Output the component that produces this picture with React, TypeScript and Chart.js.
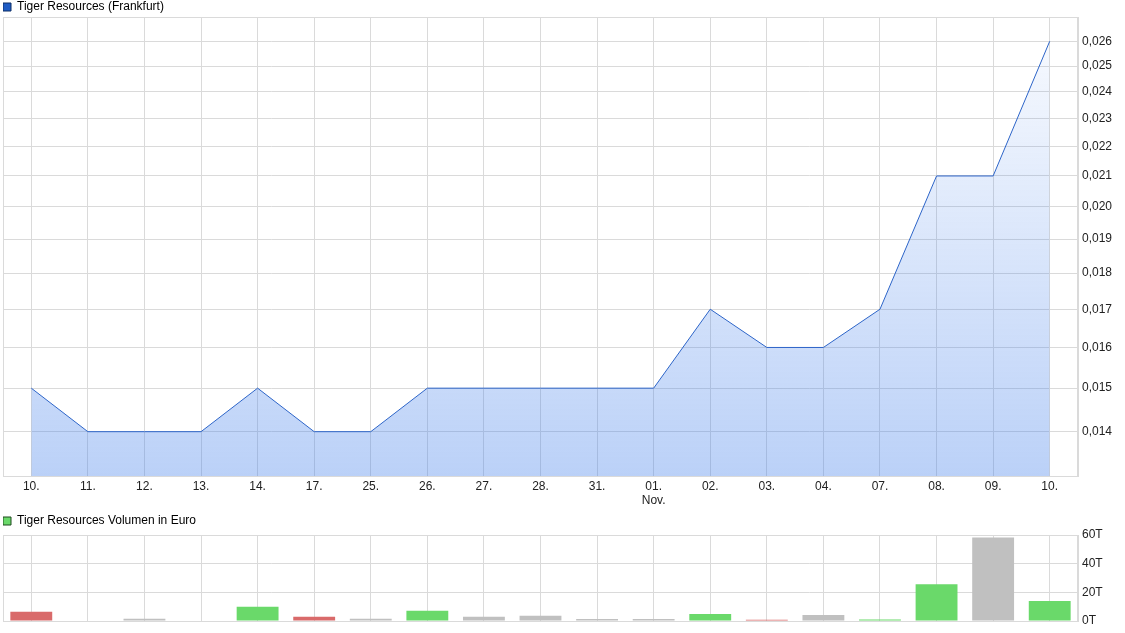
import { useEffect, useRef } from "react";
import { Chart, registerables } from "chart.js";

Chart.register(...registerables);

const FONT = "'Liberation Sans', Arial, Helvetica, sans-serif";

const categories: (string | string[])[] = [
  "10.", "11.", "12.", "13.", "14.", "17.", "25.", "26.", "27.", "28.", "31.",
  ["01.", "Nov."], "02.", "03.", "04.", "07.", "08.", "09.", "10.",
];

const priceValues = [
  0.015, 0.014, 0.014, 0.014, 0.015, 0.014, 0.014, 0.015, 0.015, 0.015, 0.015,
  0.015, 0.017, 0.016, 0.016, 0.017, 0.021, 0.021, 0.026,
];

const priceTicks = [
  0.014, 0.015, 0.016, 0.017, 0.018, 0.019, 0.02, 0.021, 0.022, 0.023, 0.024, 0.025, 0.026,
];

// volume in thousands of Euro (T)
const volumeValues = [
  6.4, 0, 1.6, 0, 9.9, 3.0, 1.6, 7.1, 3.0, 3.7, 1.4, 1.4, 4.8, 0.8, 4.2, 1.0, 25.6, 58.2, 14.0,
];

const volumeDirections = [
  "down", "flat", "flat", "flat", "up", "down", "flat", "up", "flat", "flat", "flat",
  "flat", "up", "down", "flat", "up", "up", "flat", "up",
];

const volumeTicks = [0, 20, 40, 60];

const priceTitle = "Tiger Resources (Frankfurt)";
const volumeTitle = "Tiger Resources Volumen in Euro";

const GRID = "#dadada";
const TEXT = "#222222";
const dirColor: Record<string, string> = { up: "#6ad96a", down: "#d96a6a", flat: "#c0c0c0" };

const borderPlugin = {
  id: "areaBorder",
  beforeDatasetsDraw(chart: any) {
    const { ctx, chartArea } = chart;
    ctx.save();
    ctx.strokeStyle = GRID;
    ctx.lineWidth = 1;
    ctx.strokeRect(
      Math.round(chartArea.left) + 0.5,
      Math.round(chartArea.top) + 0.5,
      Math.round(chartArea.right - chartArea.left) - 1,
      Math.round(chartArea.bottom - chartArea.top)
    );
    ctx.restore();
  },
};

function legendHeightPlugin(h: number) {
  return {
    id: "legendHeight",
    beforeInit(chart: any) {
      const legend = chart.legend;
      if (!legend) return;
      const orig = legend.fit;
      legend.fit = function () {
        orig.call(this);
        this.height = h;
      };
    },
  };
}

export default function App() {
  const topRef = useRef<HTMLCanvasElement | null>(null);
  const botRef = useRef<HTMLCanvasElement | null>(null);

  useEffect(() => {
    Chart.defaults.font.family = FONT;
    Chart.defaults.font.size = 12;
    Chart.defaults.color = TEXT;

    const top = new Chart(topRef.current as HTMLCanvasElement, {
      type: "line",
      data: {
        labels: categories as any,
        datasets: [
          {
            label: priceTitle,
            data: priceValues,
            borderColor: "#2c64c8",
            borderWidth: 1,
            pointRadius: 0,
            tension: 0,
            fill: "start",
            backgroundColor: (c: any) => {
              const { chart } = c;
              const area = chart.chartArea;
              if (!area) return "rgba(70,130,235,0.2)";
              const g = chart.ctx.createLinearGradient(0, area.top, 0, area.bottom);
              g.addColorStop(0, "rgba(70,130,235,0.03)");
              g.addColorStop(1, "rgba(70,130,235,0.37)");
              return g;
            },
          },
        ],
      },
      options: {
        animation: false,
        responsive: false,
        devicePixelRatio: 1,
        layout: { padding: { left: 3, top: 1, right: 0, bottom: 0 } },
        plugins: {
          tooltip: { enabled: false },
          legend: {
            display: true,
            position: "top",
            align: "start",
            labels: {
              boxWidth: 8,
              boxHeight: 8,
              padding: 0,
              color: TEXT,
              font: { size: 12, family: FONT },
              generateLabels: () => [
                {
                  text: priceTitle,
                  fillStyle: "#1f5cc4",
                  strokeStyle: "#0f2f66",
                  lineWidth: 1,
                  hidden: false,
                  datasetIndex: 0,
                } as any,
              ],
            },
          },
        },
        scales: {
          x: {
            type: "category",
            offset: true,
            grid: { color: GRID, offset: false, drawTicks: false },
            border: { display: true, color: GRID },
            ticks: { padding: 3, autoSkip: false, maxRotation: 0, color: TEXT },
            afterFit: (s: any) => {
              s.height = 32;
            },
          },
          y: {
            type: "logarithmic",
            position: "right",
            min: 0.01305,
            max: 0.02702,
            grid: { color: GRID, drawTicks: false },
            border: { display: true, color: GRID },
            afterBuildTicks: (s: any) => {
              s.ticks = priceTicks.map((v) => ({ value: v }));
            },
            ticks: {
              padding: 4,
              autoSkip: false,
              color: TEXT,
              callback: (v: any) => Number(v).toFixed(3).replace(".", ","),
            },
            afterFit: (s: any) => {
              s.width = 47;
            },
          },
        },
      },
      plugins: [borderPlugin, legendHeightPlugin(16)],
    });

    const bot = new Chart(botRef.current as HTMLCanvasElement, {
      type: "bar",
      data: {
        labels: categories as any,
        datasets: [
          {
            label: volumeTitle,
            data: volumeValues,
            backgroundColor: volumeDirections.map((d) => dirColor[d]),
            borderWidth: 0,
            barPercentage: 0.74,
            categoryPercentage: 1,
          },
        ],
      },
      options: {
        animation: false,
        responsive: false,
        devicePixelRatio: 1,
        layout: { padding: { left: 3, top: 7, right: 0, bottom: 0 } },
        plugins: {
          tooltip: { enabled: false },
          legend: {
            display: true,
            position: "top",
            align: "start",
            labels: {
              boxWidth: 8,
              boxHeight: 8,
              padding: 0,
              color: TEXT,
              font: { size: 12, family: FONT },
              generateLabels: () => [
                {
                  text: volumeTitle,
                  fillStyle: "#6ad96a",
                  strokeStyle: "#1f4a1f",
                  lineWidth: 1,
                  hidden: false,
                  datasetIndex: 0,
                } as any,
              ],
            },
          },
        },
        scales: {
          x: {
            type: "category",
            offset: true,
            grid: { color: GRID, offset: false, drawTicks: false },
            border: { display: true, color: GRID },
            ticks: { display: false },
            afterFit: (s: any) => {
              s.height = 12;
            },
          },
          y: {
            position: "right",
            min: 0,
            max: 60,
            grid: { color: GRID, drawTicks: false },
            border: { display: true, color: GRID },
            afterBuildTicks: (s: any) => {
              s.ticks = volumeTicks.map((v) => ({ value: v }));
            },
            ticks: {
              padding: 4,
              color: TEXT,
              callback: (v: any) => `${v}T`,
            },
            afterFit: (s: any) => {
              s.width = 47;
            },
          },
        },
      },
      plugins: [borderPlugin, legendHeightPlugin(20)],
    });

    return () => {
      top.destroy();
      bot.destroy();
    };
  }, []);

  return (
    <div style={{ position: "fixed", left: 0, top: 0, width: 1125, height: 633, background: "#fff" }}>
      <canvas
        ref={topRef}
        width={1125}
        height={508}
        style={{ position: "absolute", left: 0, top: 0, width: 1125, height: 508 }}
      />
      <canvas
        ref={botRef}
        width={1125}
        height={125}
        style={{ position: "absolute", left: 0, top: 508, width: 1125, height: 125 }}
      />
    </div>
  );
}
